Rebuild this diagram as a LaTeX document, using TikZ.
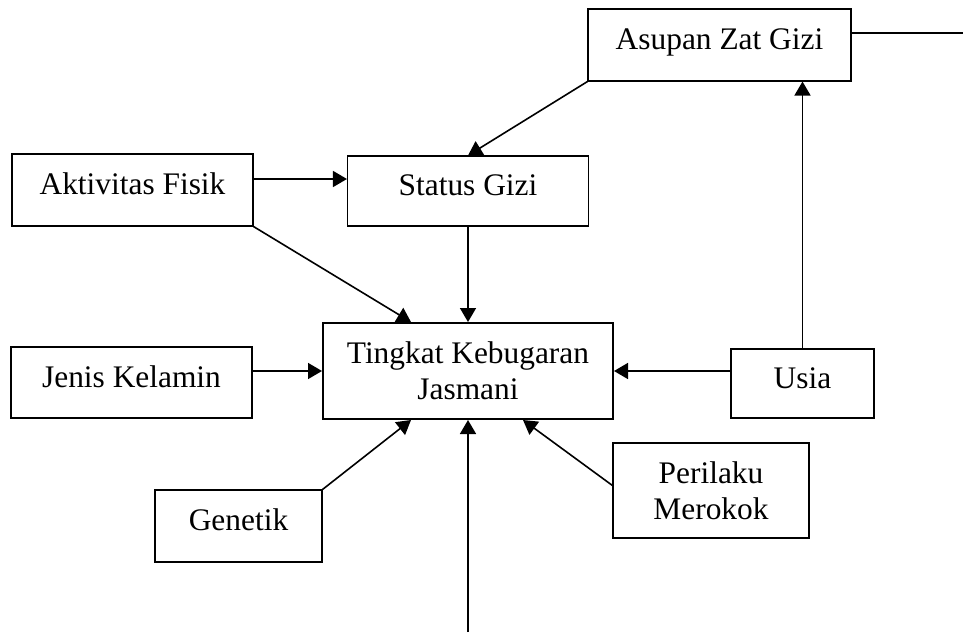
\documentclass[tikz,border=0pt]{standalone}
\usepackage{fontspec}
\setmainfont{Liberation Serif}
\usetikzlibrary{arrows.meta}
\tikzset{
  kotak/.style={draw, line width=1.1pt, minimum width=#1, minimum height=72pt,
                inner sep=2pt, align=center, font=\fontsize{31.4}{36}\selectfont},
  kotak/.default=241pt,
  satu/.style={text height=21pt, text depth=12pt},
  panah/.style={-{Triangle[length=14pt,width=16pt]}, line width=1.6pt},
}

\begin{document}
\begin{tikzpicture}[x=1pt, y=-1pt]
  \useasboundingbox (0,0) rectangle (963,632);
  \node[kotak=263pt, satu] (asupan) at (719.5,45) {Asupan Zat Gizi};
  \node[kotak, satu] (aktivitas) at (132.5,190) {Aktivitas Fisik};
  \node[kotak, satu, minimum height=70pt] (status) at (468,191) {Status Gizi};
  \node[kotak=290pt, minimum height=96pt, line width=2pt] (tingkat) at (468,371)
    {Tingkat Kebugaran\\Jasmani};
  \node[kotak, satu, minimum height=71pt] (jenis) at (131.5,382.5) {Jenis Kelamin};
  \node[kotak=143pt, satu, minimum height=69pt] (usia) at (802.5,383.5) {Usia};
  \node[kotak=167pt, satu] (genetik) at (238.5,526) {Genetik};
  \node[kotak=196pt, minimum height=95pt] (perilaku) at (711,490.5) {Perilaku\\Merokok};
  \coordinate (kanan) at (963,33);
  \coordinate (bawah) at (468,632);
  % ke status gizi
  \draw[panah] (asupan.south west) -- (status.north);
  \draw[panah] ([yshift=11pt]aktivitas.east) -- ([yshift=11pt]aktivitas.east -| status.west);
  % ke tingkat kebugaran
  \draw[panah] (aktivitas.south east) -- ([xshift=-57pt]tingkat.north);
  \draw[panah] (status.south) -- (tingkat.north);
  \draw[panah] (jenis.east |- tingkat.west) -- (tingkat.west);
  \draw[panah] (usia.west |- tingkat.east) -- (tingkat.east);
  \draw[panah] (genetik.north east) -- ([xshift=-57pt]tingkat.south);
  \draw[panah] ([yshift=5pt]perilaku.west) -- ([xshift=55pt]tingkat.south);
  \draw[panah] (bawah) -- (tingkat.south);
  % usia ke asupan
  \draw[panah] (usia.north) -- (usia.north |- asupan.south);
  \draw[line width=1.6pt] (asupan.east |- kanan) -- (kanan);
\end{tikzpicture}
\end{document}
